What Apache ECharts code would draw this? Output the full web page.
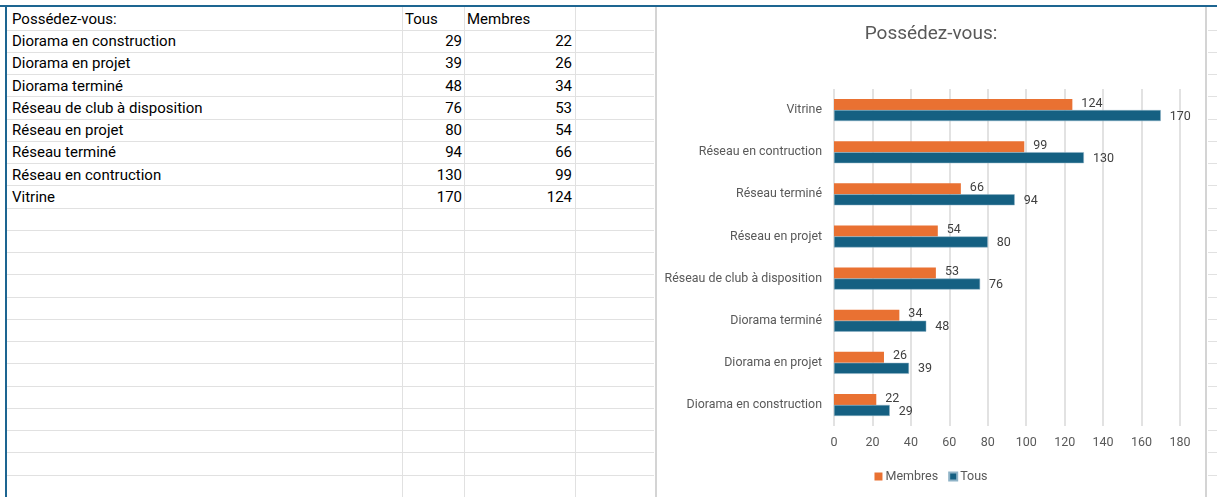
<!DOCTYPE html>
<html>
<head>
<meta charset="utf-8">
<script src="https://cdn.jsdelivr.net/npm/echarts@6/dist/echarts.min.js"></script>
<style>
  html, body { margin: 0; padding: 0; background: #fff; }
  body { width: 1217px; height: 497px; position: relative; overflow: hidden; font-family: Roboto, sans-serif; }
  .hl { position: absolute; height: 1px; background: #e1e1e1; }
  .vl { position: absolute; width: 1px; background: #e1e1e1; }
  .cell { position: absolute; font-size: 15px; color: #000; line-height: 22px; white-space: nowrap; }
  #chart { position: absolute; left: 655px; top: 7px; width: 552px; height: 490px; background: #fff;
           border-left: 2px solid #d4d4d4; border-right: 2px solid #d4d4d4; box-sizing: border-box; }
</style>
</head>
<body>
<div id="sheet"></div>
<div id="chart"></div>
<script>
// données du tableau
const categories = ['Diorama en construction', 'Diorama en projet', 'Diorama terminé', 'Réseau de club à disposition', 'Réseau en projet', 'Réseau terminé', 'Réseau en contruction', 'Vitrine']
const tous = [29, 39, 48, 76, 80, 94, 130, 170]
const membres = [22, 26, 34, 53, 54, 66, 99, 124]
const headers = ['Possédez-vous:', 'Tous', 'Membres']
const xTicks = [0, 20, 40, 60, 80, 100, 120, 140, 160, 180]

// feuille de calcul
const sheet = document.getElementById('sheet')
function add(cls, css, text) {
  const d = document.createElement('div')
  d.className = cls
  Object.assign(d.style, css)
  if (text !== undefined) d.textContent = text
  sheet.appendChild(d)
}
const rowH = 22.25
const row0 = 7.3
for (let k = 1; k < 22; k++) {
  const y = Math.round(row0 + k * rowH)
  add('hl', { left: '7px', top: y + 'px', width: '647px' })
  add('hl', { left: '1208px', top: y + 'px', width: '9px' })
}
;[402, 464, 575].forEach(x => add('vl', { left: x + 'px', top: '7px', height: '490px' }))
add('cell', { left: '0', top: '5px', width: '1217px', height: '2px', background: '#1d6591' })
add('cell', { left: '5px', top: '5px', width: '2px', height: '492px', background: '#1d6591' })

function cellTop(r) { return (row0 + r * rowH + 0.5) + 'px' }
add('cell', { left: '12px', top: cellTop(0) }, headers[0])
add('cell', { left: '405px', top: cellTop(0) }, headers[1])
add('cell', { left: '467px', top: cellTop(0) }, headers[2])
categories.forEach((c, i) => {
  add('cell', { left: '12px', top: cellTop(i + 1) }, c)
  add('cell', { left: '402px', width: '60px', textAlign: 'right', top: cellTop(i + 1) }, String(tous[i]))
  add('cell', { left: '464px', width: '108px', textAlign: 'right', top: cellTop(i + 1) }, String(membres[i]))
})

// graphique
const chart = echarts.init(document.getElementById('chart'))
const option = {
  animation: false,
  textStyle: { fontFamily: 'Roboto' },
  title: {
    text: 'Possédez-vous:',
    left: 'center',
    top: 13,
    textStyle: { fontSize: 19, fontWeight: 'normal', color: '#595959' }
  },
  legend: {
    data: ['Membres', 'Tous'],
    bottom: 9,
    left: 'center',
    itemWidth: 8,
    itemHeight: 8,
    itemGap: 10,
    icon: 'rect',
    textStyle: { fontSize: 12.5, color: '#595959', padding: [0, 0, 0, -2] }
  },
  grid: { left: 177, right: 25, top: 82, bottom: 71 },
  xAxis: {
    type: 'value',
    min: xTicks[0],
    max: xTicks[xTicks.length - 1],
    interval: 20,
    axisLine: { show: false },
    axisTick: { show: false },
    axisLabel: { fontSize: 12.5, color: '#595959', margin: 10 },
    splitLine: { lineStyle: { color: '#d9d9d9', width: 1.5 } }
  },
  yAxis: {
    type: 'category',
    data: categories,
    axisLine: { show: false },
    axisTick: { show: false },
    axisLabel: { fontSize: 12.4, color: '#595959', margin: 12 }
  },
  series: [
    {
      name: 'Membres',
      type: 'bar',
      data: membres,
      barWidth: 11,
      barGap: '0%',
      itemStyle: { color: '#e97132' },
      label: { show: true, position: 'right', distance: 9, fontSize: 12.5, color: '#404040', offset: [0, -1] }
    },
    {
      name: 'Tous',
      type: 'bar',
      data: tous,
      barWidth: 11,
      barGap: '0%',
      itemStyle: { color: '#156082', borderColor: '#8fb3c7', borderWidth: 0.5 },
      label: { show: true, position: 'right', distance: 9, fontSize: 12.5, color: '#404040', offset: [0, 1] }
    }
  ]
}
chart.setOption(option)
</script>
</body>
</html>
